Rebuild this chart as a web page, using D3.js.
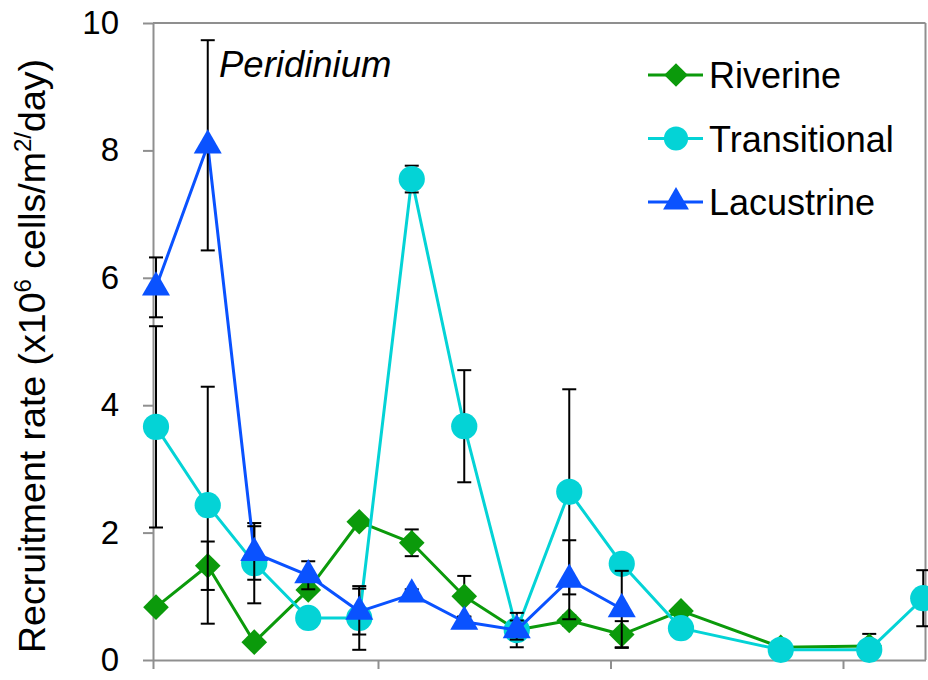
<!DOCTYPE html>
<html>
<head>
<meta charset="utf-8">
<script src="https://cdn.jsdelivr.net/npm/d3@7"></script>
<style>
  html, body { margin: 0; padding: 0; background: #fff; }
  svg { display: block; font-family: "Liberation Sans", Arial, Helvetica, sans-serif; }
</style>
</head>
<body>
<svg id="chart" width="928" height="680"></svg>
<script>
// Sampling days (days since the first tick of the season)
const sampleDay = [0.4, 7.3, 13.5, 20.7, 27.5, 34.5, 41.5, 48.5, 55.5, 62.5, 70.4, 83.7, 95.5, 102.7];
// Month boundary ticks on the time axis (unlabelled)
const monthTicks = [0, 30, 61, 92];
const yTicks = [0, 2, 4, 6, 8, 10];

// Recruitment rate (x10^6 cells/m^2/day), mean and ± error
const riverine      = [0.83, 1.48, 0.28, 1.10, 2.17, 1.84, 1.00, 0.47, 0.62, 0.40, 0.77, 0.20, 0.22];
const riverineErr   = [0.05, 0.38, 0.05, 0.05, 0.05, 0.21, 0.32, 0.05, 0.08, 0.21, 0.05, 0.03, 0.19];
const transitional    = [3.66, 2.43, 1.52, 0.66, 0.66, 7.55, 3.67, 0.47, 2.64, 1.51, 0.50, 0.16, 0.16, 0.97];
const transitionalErr = [1.58, 1.86, 0.63, 0.05, 0.50, 0.21, 0.88, 0.27, 1.61, 0.08, 0.05, 0.03, 0.03, 0.44];
const lacustrine    = [5.85, 8.08, 1.68, 1.33, 0.76, 1.03, 0.60, 0.47, 1.26, 0.80];
const lacustrineErr = [0.47, 1.65, 0.42, 0.22, 0.36, 0.08, 0.08, 0.15, 0.62, 0.60];

const series = [
  { name: "Riverine",     values: riverine,     err: riverineErr,     color: "#0b9a0b", symbol: d3.symbolDiamond2, size: 420 },
  { name: "Transitional", values: transitional, err: transitionalErr, color: "#04d3d6", symbol: d3.symbolCircle,   size: 540 },
  { name: "Lacustrine",   values: lacustrine,   err: lacustrineErr,   color: "#0a52ff", symbol: d3.symbolTriangle, size: 340 }
];

const svg = d3.select("#chart");
const plotLeft = 153, plotRight = 925.5, plotTop = 23, plotBottom = 660;

const x = d3.scaleLinear().domain([0, 103]).range([plotLeft, plotRight]);
const y = d3.scaleLinear().domain([0, 10]).range([plotBottom, plotTop]);

const axisColor = "#8f8f8f";

// Frame: top and right borders
svg.append("line").attr("x1", plotLeft).attr("x2", plotRight).attr("y1", plotTop).attr("y2", plotTop)
  .attr("stroke", axisColor).attr("stroke-width", 2);
svg.append("line").attr("x1", plotRight).attr("x2", plotRight).attr("y1", plotTop).attr("y2", plotBottom)
  .attr("stroke", axisColor).attr("stroke-width", 2);

// Y axis
const yAxis = svg.append("g").attr("transform", `translate(${plotLeft},0)`)
  .call(d3.axisLeft(y).tickValues(yTicks).tickSize(10).tickPadding(24).tickSizeOuter(0));
yAxis.select(".domain").attr("stroke", axisColor).attr("stroke-width", 2);
yAxis.selectAll(".tick line").attr("stroke", axisColor).attr("stroke-width", 2);
yAxis.selectAll(".tick text").attr("font-size", 33).attr("fill", "#000")
  .attr("font-family", "'Liberation Sans', Arial, sans-serif");

// X axis (ticks only)
const xAxis = svg.append("g").attr("transform", `translate(0,${plotBottom})`)
  .call(d3.axisBottom(x).tickValues(monthTicks).tickSize(9).tickFormat("").tickSizeOuter(0));
xAxis.select(".domain").attr("stroke", axisColor).attr("stroke-width", 2);
xAxis.selectAll(".tick line").attr("stroke", axisColor).attr("stroke-width", 2);

// Y axis title
const title = svg.append("text")
  .attr("transform", "translate(45,356) rotate(-90)")
  .attr("text-anchor", "middle")
  .attr("font-size", 37.5)
  .attr("fill", "#000");
title.append("tspan").text("Recruitment rate (x10");
title.append("tspan").attr("font-size", 24).attr("dy", -14).text("6");
title.append("tspan").attr("dy", 14).text(" cells/m");
title.append("tspan").attr("font-size", 24).attr("dy", -14).text("2/");
title.append("tspan").attr("dy", 14).text("day)");

// Taxon label
svg.append("text").attr("x", 219).attr("y", 77)
  .attr("font-size", 36.5).attr("font-style", "italic").attr("fill", "#000")
  .text("Peridinium");

const line = d3.line().x(d => x(d.day)).y(d => y(d.v));

series.forEach(s => {
  const pts = s.values.map((v, i) => ({ day: sampleDay[i], v, e: s.err[i] }));
  const g = svg.append("g");

  g.append("path").datum(pts).attr("d", line)
    .attr("fill", "none").attr("stroke", s.color).attr("stroke-width", 3)
    .attr("stroke-linejoin", "round");

  // Error bars
  const eb = g.selectAll(".eb").data(pts).join("g").attr("class", "eb")
    .attr("stroke", "#000").attr("stroke-width", 2);
  eb.append("line")
    .attr("x1", d => x(d.day)).attr("x2", d => x(d.day))
    .attr("y1", d => y(d.v + d.e)).attr("y2", d => y(d.v - d.e));
  eb.append("line")
    .attr("x1", d => x(d.day) - 7).attr("x2", d => x(d.day) + 7)
    .attr("y1", d => y(d.v + d.e)).attr("y2", d => y(d.v + d.e));
  eb.append("line")
    .attr("x1", d => x(d.day) - 7).attr("x2", d => x(d.day) + 7)
    .attr("y1", d => y(d.v - d.e)).attr("y2", d => y(d.v - d.e));

  // Markers
  g.selectAll(".m").data(pts).join("path").attr("class", "m")
    .attr("transform", d => `translate(${x(d.day)},${y(d.v)})`)
    .attr("d", d3.symbol(s.symbol, s.size))
    .attr("fill", s.color);
});

// Legend
const legend = svg.append("g");
series.forEach((s, i) => {
  const cy = 75 + i * 63.5;
  legend.append("line").attr("x1", 648).attr("x2", 703).attr("y1", cy).attr("y2", cy)
    .attr("stroke", s.color).attr("stroke-width", 3);
  legend.append("path").attr("transform", `translate(676,${cy})`)
    .attr("d", d3.symbol(s.symbol, s.size * 0.85)).attr("fill", s.color);
  legend.append("text").attr("x", 709).attr("y", cy + 13)
    .attr("font-size", 36).attr("fill", "#000").text(s.name);
});
</script>
</body>
</html>
